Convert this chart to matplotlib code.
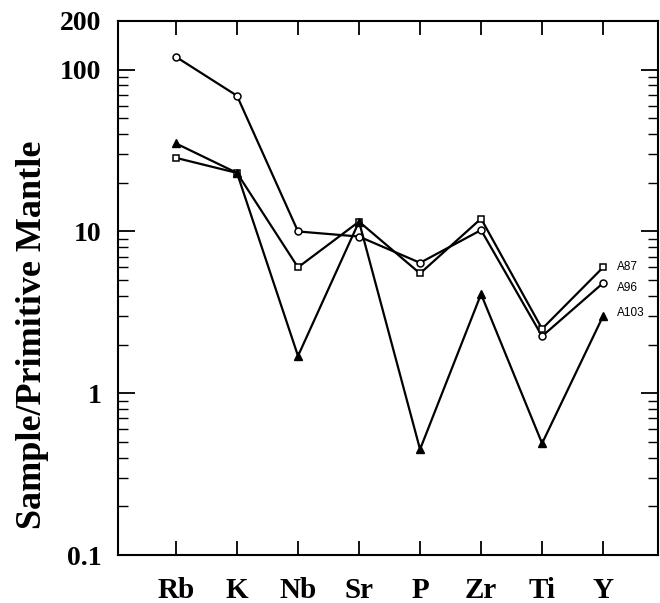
import numpy as np
import matplotlib
matplotlib.use("Agg")
import matplotlib.pyplot as plt
from matplotlib.ticker import FixedLocator, LogLocator, NullFormatter

# element order on the spider diagram
elements = ["Rb", "K", "Nb", "Sr", "P", "Zr", "Ti", "Y"]

# sample / primitive mantle values
a87 = [28.5, 23, 6.0, 11.5, 5.5, 12.0, 2.5, 6.0]
a96 = [120, 69, 10.0, 9.3, 6.4, 10.2, 2.25, 4.8]
a103 = [35, 23, 1.7, 11.5, 0.45, 4.1, 0.49, 3.0]

sample_names = ["A87", "A96", "A103"]
label_offsets = [0.0, -0.03, 0.02]  # in decades, to keep the labels apart

serif = ["Liberation Serif", "DejaVu Serif"]

fig = plt.figure(figsize=(6.6, 6.03), dpi=100)
ax = fig.add_axes([0.1788, 0.0796, 0.8182, 0.8856])

x = np.arange(len(elements))
ax.plot(x, a96, color="black", lw=1.6, marker="o", ms=5, mfc="white", mec="black", mew=1.1)
ax.plot(x, a87, color="black", lw=1.6, marker="s", ms=5, mfc="white", mec="black", mew=1.1)
ax.plot(x, a103, color="black", lw=1.6, marker="^", ms=5.5, mfc="black", mec="black")

# sample names beside the last point
for name, vals, off in zip(sample_names, [a87, a96, a103], label_offsets):
    ax.text(x[-1] + 0.22, vals[-1] * 10 ** off, name, fontsize=8.5,
            family="Liberation Sans", va="center", ha="left")

ax.set_yscale("log")
ax.set_ylim(0.1, 200)
ax.set_xlim(-0.95, 7.9)

ax.yaxis.set_major_locator(FixedLocator([0.1, 1, 10, 100, 200]))
ax.set_yticklabels(["0.1", "1", "10", "100", "200"], fontfamily=serif,
                   fontweight="bold", fontsize=20)
ax.yaxis.set_minor_locator(LogLocator(base=10, subs=np.arange(2, 10)))
ax.yaxis.set_minor_formatter(NullFormatter())

ax.set_xticks(x)
ax.set_xticklabels(elements, fontfamily=serif, fontweight="bold", fontsize=21)

ax.tick_params(axis="y", which="major", direction="in", length=12, width=1.3,
               pad=12, right=True)
ax.tick_params(axis="y", which="minor", direction="in", length=7, width=1.0,
               right=True)
ax.tick_params(axis="x", direction="in", length=10, width=1.3, pad=16, top=True)

for s in ax.spines.values():
    s.set_linewidth(1.5)

ax.set_ylabel("Sample/Primitive Mantle", fontfamily=serif, fontweight="bold",
              fontsize=26)
ax.yaxis.set_label_coords(-0.127, 0.412)

fig.savefig("out.png", dpi=100)
